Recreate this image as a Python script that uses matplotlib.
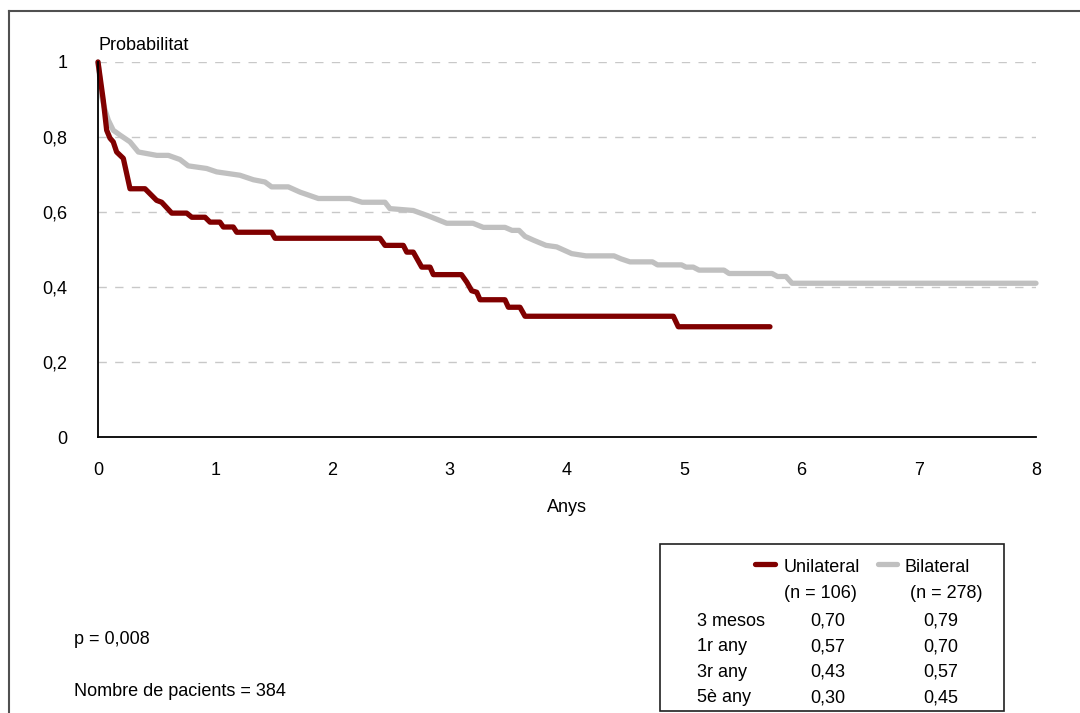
import matplotlib
matplotlib.use('Agg')
import matplotlib.pyplot as plt
from matplotlib.patches import Rectangle

plt.rcParams['font.family'] = ['Liberation Sans', 'DejaVu Sans']

# Corbes de supervivència (temps en anys, probabilitat)
uni_t = [0, 0.045, 0.074, 0.102, 0.130, 0.159, 0.216, 0.273, 0.401, 0.50, 0.543,
         0.629, 0.756, 0.80, 0.913, 0.955, 1.04, 1.069, 1.154, 1.183, 1.481, 1.51,
         2.405, 2.448, 2.604, 2.633, 2.689, 2.761, 2.832, 2.86, 3.10, 3.145, 3.187,
         3.23, 3.258, 3.471, 3.50, 3.599, 3.642, 4.907, 4.949, 5.731]
uni_p = [1.0, 0.898, 0.818, 0.797, 0.787, 0.760, 0.743, 0.662, 0.662, 0.631, 0.626,
         0.597, 0.597, 0.586, 0.586, 0.573, 0.573, 0.560, 0.560, 0.546, 0.546, 0.530,
         0.530, 0.511, 0.511, 0.493, 0.493, 0.453, 0.453, 0.433, 0.433, 0.413, 0.390,
         0.386, 0.366, 0.366, 0.346, 0.346, 0.322, 0.322, 0.294, 0.294]

bil_t = [0, 0.032, 0.060, 0.088, 0.130, 0.188, 0.273, 0.344, 0.501, 0.600, 0.699,
         0.770, 0.927, 1.012, 1.211, 1.325, 1.424, 1.481, 1.623, 1.723, 1.879, 2.149,
         2.252, 2.448, 2.490, 2.689, 2.814, 2.974, 3.198, 3.286, 3.471, 3.531, 3.591,
         3.642, 3.713, 3.821, 3.912, 4.040, 4.162, 4.401, 4.461, 4.537, 4.729, 4.772,
         4.977, 5.015, 5.077, 5.126, 5.339, 5.382, 5.749, 5.795, 5.868, 5.919, 8.0]
bil_p = [1.0, 0.907, 0.872, 0.845, 0.818, 0.805, 0.787, 0.760, 0.751, 0.751, 0.740,
         0.723, 0.716, 0.707, 0.698, 0.686, 0.680, 0.667, 0.667, 0.653, 0.636, 0.636,
         0.626, 0.626, 0.609, 0.604, 0.590, 0.570, 0.570, 0.559, 0.559, 0.551, 0.551,
         0.535, 0.525, 0.511, 0.507, 0.489, 0.483, 0.483, 0.475, 0.467, 0.467, 0.459,
         0.459, 0.453, 0.453, 0.445, 0.445, 0.436, 0.436, 0.428, 0.428, 0.410, 0.410]

x_ticks = [0, 1, 2, 3, 4, 5, 6, 7, 8]
y_ticks = [0, 0.2, 0.4, 0.6, 0.8, 1.0]
y_labels = ['0', '0,2', '0,4', '0,6', '0,8', '1']

files = ['3 mesos', '1r any', '3r any', '5è any']
uni_vals = ['0,70', '0,57', '0,43', '0,30']
bil_vals = ['0,79', '0,70', '0,57', '0,45']

RED = '#800000'
GRAY = '#c0c0c0'
W, H = 1080, 713

fig = plt.figure(figsize=(W / 100, H / 100), dpi=100)
ax = fig.add_axes([98 / W, 1 - 437 / H, (1036 - 98) / W, (437 - 62) / H])


def fx(x):
    return x / W


def fy(y):
    return 1 - y / H


def txt(x, y, s, ha='left'):
    # y = centre de les majúscules, en píxels des de dalt
    fig.text(fx(x), fy(y + 6.5), s, fontsize=13, va='baseline', ha=ha)


for y in y_ticks[1:]:
    ax.axhline(y, color='#c8c8c8', lw=1, ls=(0, (6, 6)), zorder=1)

ax.plot(bil_t, bil_p, color=GRAY, lw=3.8, solid_joinstyle='round',
        solid_capstyle='round', zorder=3, clip_on=False)
ax.plot(uni_t, uni_p, color=RED, lw=3.8, solid_joinstyle='round',
        solid_capstyle='round', zorder=4, clip_on=False)

ax.set_xlim(0, 8)
ax.set_ylim(0, 1)
ax.set_xticks(x_ticks)
ax.set_xticklabels([str(v) for v in x_ticks])
ax.set_yticks(y_ticks)
ax.set_yticklabels(y_labels)
ax.tick_params(length=0, labelsize=13, colors='black')
ax.tick_params(axis='x', pad=18)
ax.tick_params(axis='y', pad=22)
for s in ['top', 'right']:
    ax.spines[s].set_visible(False)
for s in ['left', 'bottom']:
    ax.spines[s].set_linewidth(1.3)
    ax.spines[s].set_zorder(5)

txt(98, 43, 'Probabilitat')
txt(567, 505, 'Anys', ha='center')
txt(74, 638, 'p = 0,008')
txt(74, 690, 'Nombre de pacients = 384')

# marc exterior
fig.add_artist(plt.Line2D([fx(9), fx(9)], [fy(10.5), 0], color='#505050', lw=1.5))
fig.add_artist(plt.Line2D([fx(9), 1], [fy(10.5), fy(10.5)], color='#505050', lw=1.5))

# taula de probabilitats amb llegenda
fig.add_artist(Rectangle((fx(660), fy(711)), fx(1004) - fx(660), fy(544) - fy(711),
                         transform=fig.transFigure, fill=False, ec='#202020', lw=1.2))
fig.add_artist(plt.Line2D([fx(755), fx(775)], [fy(564), fy(564)], color=RED, lw=3.8,
                          solid_capstyle='round'))
fig.add_artist(plt.Line2D([fx(878), fx(897)], [fy(564), fy(564)], color=GRAY, lw=3.8,
                          solid_capstyle='round'))
txt(784, 565, 'Unilateral')
txt(905, 565, 'Bilateral')
txt(784, 591, '(n = 106)')
txt(910, 591, '(n = 278)')
for i, (f, u, b) in enumerate(zip(files, uni_vals, bil_vals)):
    y = 619 + i * 25.6
    txt(697, y, f)
    txt(810, y, u)
    txt(923, y, b)

fig.savefig('out.png', dpi=100, facecolor='white')
